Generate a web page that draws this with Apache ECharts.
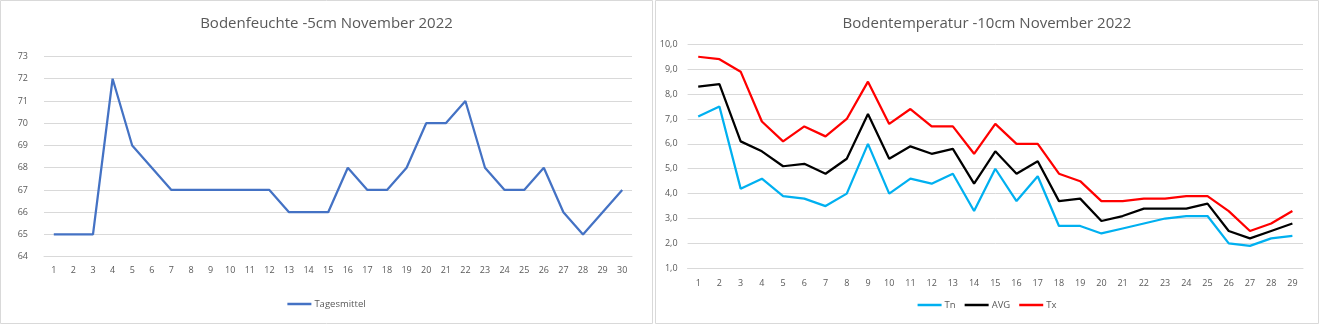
<!DOCTYPE html>
<html><head><meta charset="utf-8">
<script src="https://cdn.jsdelivr.net/npm/echarts@6/dist/echarts.min.js"></script>
<style>
html,body{margin:0;padding:0;background:#fff;width:1319px;height:325px;overflow:hidden}
#c1{position:absolute;left:0;top:0;width:653px;height:325px}
#c2{position:absolute;left:655px;top:0;width:664px;height:325px}
</style></head><body>
<div id="c1"></div><div id="c2"></div>
<script>
const daysMoist = Array.from({length:30},(_,i)=>String(i+1));
const moisture = [65,65,65,72,69,68,67,67,67,67,67,67,66,66,66,68,67,67,68,70,70,71,68,67,67,68,66,65,66,67];
const daysTemp = Array.from({length:29},(_,i)=>String(i+1));
const tn  = [7.1,7.5,4.2,4.6,3.9,3.8,3.5,4.0,6.0,4.0,4.6,4.4,4.8,3.3,5.0,3.7,4.7,2.7,2.7,2.4,2.6,2.8,3.0,3.1,3.1,2.0,1.9,2.2,2.3];
const avg = [8.3,8.4,6.1,5.7,5.1,5.2,4.8,5.4,7.2,5.4,5.9,5.6,5.8,4.4,5.7,4.8,5.3,3.7,3.8,2.9,3.1,3.4,3.4,3.4,3.6,2.5,2.2,2.5,2.8];
const tx  = [9.5,9.4,8.9,6.9,6.1,6.7,6.3,7.0,8.5,6.8,7.4,6.7,6.7,5.6,6.8,6.0,6.0,4.8,4.5,3.7,3.7,3.8,3.8,3.9,3.9,3.3,2.5,2.8,3.3];

const FONT = "'Open Sans', sans-serif";
const GRAY = '#595959';

function base(titleText, w){
  return {
    animation:false,
    textStyle:{fontFamily:FONT},
    title:{text:titleText,left:'center',top:11,textStyle:{color:GRAY,fontSize:15,fontWeight:'normal',fontFamily:FONT}},
    graphic:[{type:'rect',shape:{x:0.5,y:0.5,width:w-1,height:323},style:{fill:'none',stroke:'#D9D9D9',lineWidth:1},silent:true}]
  };
}

const c1 = echarts.init(document.getElementById('c1'),null,{renderer:'canvas'});
const o1 = base('Bodenfeuchte -5cm November 2022', 653);
Object.assign(o1,{
  grid:{left:44,right:21,top:56.5,bottom:68.3,containLabel:false},
  legend:{bottom:11,left:'center',icon:'rect',itemWidth:24,itemHeight:2.5,itemGap:9,textStyle:{color:GRAY,fontSize:9.5,fontFamily:FONT,padding:[0,0,0,-2]},data:['Tagesmittel']},
  xAxis:{type:'category',data:daysMoist,boundaryGap:true,axisLine:{show:true,lineStyle:{color:'#D9D9D9'}},axisTick:{show:false},axisLabel:{color:GRAY,fontSize:9,margin:9,interval:0}},
  yAxis:{type:'value',min:64,max:73,interval:1,axisLine:{show:false},axisTick:{show:false},splitLine:{lineStyle:{color:'#D9D9D9'}},axisLabel:{color:GRAY,fontSize:9,margin:16}},
  series:[{name:'Tagesmittel',type:'line',data:moisture,showSymbol:false,symbol:'none',lineStyle:{color:'#4472C4',width:2.25},itemStyle:{color:'#4472C4'}}]
});
c1.setOption(o1);

const c2 = echarts.init(document.getElementById('c2'),null,{renderer:'canvas'});
const o2 = base('Bodentemperatur -10cm November 2022', 664);
Object.assign(o2,{
  grid:{left:32.6,right:16,top:44.3,bottom:56.7,containLabel:false},
  legend:{bottom:10,left:'center',icon:'rect',itemWidth:24,itemHeight:2.5,itemGap:9,textStyle:{color:GRAY,fontSize:9.5,fontFamily:FONT,padding:[0,0,0,-2]},data:['Tn','AVG','Tx']},
  xAxis:{type:'category',data:daysTemp,boundaryGap:true,axisLine:{show:true,lineStyle:{color:'#D9D9D9'}},axisTick:{show:false},axisLabel:{color:GRAY,fontSize:9,margin:11,interval:0}},
  yAxis:{type:'value',min:1,max:10,interval:1,axisLine:{show:false},axisTick:{show:false},splitLine:{lineStyle:{color:'#D9D9D9'}},axisLabel:{color:GRAY,fontSize:9,margin:10,formatter:v=>v.toFixed(1).replace('.',',')}},
  series:[
    {name:'Tn',type:'line',data:tn,showSymbol:false,symbol:'none',lineStyle:{color:'#00B0F0',width:2.25},itemStyle:{color:'#00B0F0'}},
    {name:'AVG',type:'line',data:avg,showSymbol:false,symbol:'none',lineStyle:{color:'#000000',width:2.25},itemStyle:{color:'#000000'}},
    {name:'Tx',type:'line',data:tx,showSymbol:false,symbol:'none',lineStyle:{color:'#FF0000',width:2.25},itemStyle:{color:'#FF0000'}}
  ]
});
c2.setOption(o2);
</script>
</body></html>
